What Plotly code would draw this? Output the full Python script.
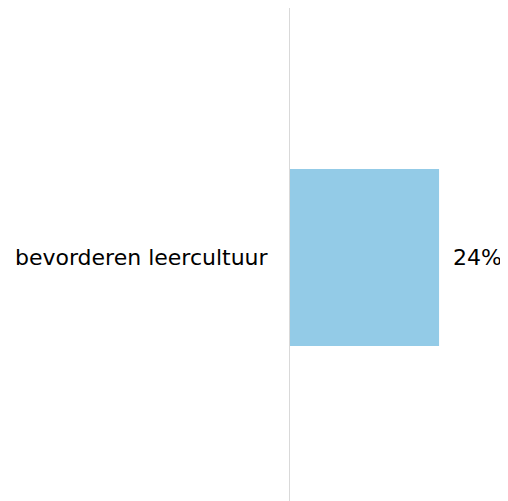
import plotly.graph_objects as go

categories = ["bevorderen leercultuur"]
values = [24]
value_labels = ["24%"]

fig = go.Figure()
fig.add_trace(go.Bar(
    y=categories, x=values, orientation="h",
    marker=dict(color="#93CBE7", line=dict(width=0)),
    width=0.359,
    hoverinfo="skip",
))
for c, v, t in zip(categories, values, value_labels):
    fig.add_annotation(x=v, y=c, text=t, showarrow=False, xanchor="left",
                       xshift=12, font=dict(family="DejaVu Sans", size=22, color="#000000"))

fig.update_layout(
    width=508, height=493,
    margin=dict(l=282, r=8, t=0, b=0),
    plot_bgcolor="white", paper_bgcolor="white",
    showlegend=False,
    font=dict(family="DejaVu Sans", size=22, color="#000000"),
    xaxis=dict(range=[0, 35.1], visible=False, fixedrange=True),
    yaxis=dict(range=[-0.4939, 0.5061], showline=True, linecolor="#d9d9d9", linewidth=1,
               showgrid=False, zeroline=False, ticks="", ticklabelstandoff=17,
               tickfont=dict(family="DejaVu Sans", size=22, color="#000000")),
)
fig.write_html("out.html")
